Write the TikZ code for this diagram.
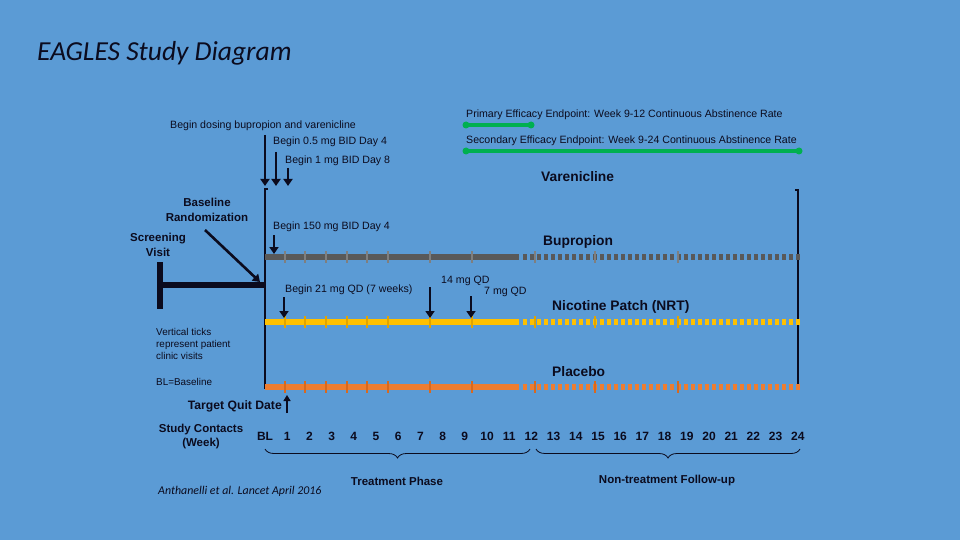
\documentclass[tikz,border=0pt]{standalone}
\usepackage{fontspec}
\setmainfont{Liberation Sans}
\newfontfamily\calfont{Carlito}
\usetikzlibrary{arrows.meta,decorations.pathreplacing}
\definecolor{slide}{HTML}{5B9BD5}
\definecolor{bupgray}{HTML}{595959}
\definecolor{bupgraytick}{HTML}{7F7F7F}
\definecolor{nrtyellow}{HTML}{FFC000}
\definecolor{nrtyellowtick}{HTML}{E0A400}
\definecolor{placorange}{HTML}{ED7D31}
\definecolor{placorangetick}{HTML}{D8691E}
\definecolor{endgreen}{HTML}{00B050}
\definecolor{ink}{HTML}{0B0B1E}
\tikzset{
  note/.style={font=\fontsize{10.6}{12.5}\selectfont, inner sep=0pt, text=ink},
  smallnote/.style={font=\fontsize{9.9}{12}\selectfont, inner sep=0pt, text=ink},
  armlabel/.style={font=\bfseries\fontsize{13.8}{16}\selectfont, inner sep=0pt, text=ink},
  sidelabel/.style={font=\bfseries\fontsize{11.5}{15}\selectfont, inner sep=0pt, text=ink, align=center},
  phaselabel/.style={font=\bfseries\fontsize{11.5}{14}\selectfont, inner sep=0pt, text=ink},
  weeklabel/.style={font=\bfseries\fontsize{12}{14}\selectfont, inner sep=0pt, text=ink},
  drop/.style={line width=2.6pt, draw=ink, -{Triangle[width=9pt,length=7pt]}},
  armline/.style={line width=6pt},
  armtick/.style={line width=1.6pt},
  endpoint/.style={line width=3.5pt, draw=endgreen},
  enddot/.style={fill=endgreen},
  phasebrace/.style={draw=ink, line width=0.8pt, decorate, decoration={brace, mirror, amplitude=9pt}},
}
\begin{document}
\begin{tikzpicture}[x=1pt, y=-1pt]
  % slide background
  \fill[slide] (0,0) rectangle (960,540);
  \useasboundingbox (0,0) rectangle (960,540);

  % title
  \node[anchor=west, inner sep=0pt, text=ink] (title) at (37,53) {\calfont\itshape\fontsize{27.5}{32}\selectfont EAGLES Study Diagram};

  % efficacy endpoints
  \node[note, anchor=west] (primary) at (466,115) {Primary Efficacy Endpoint: Week 9-12 Continuous Abstinence Rate};
  \draw[endpoint] (466,125) -- (531,125);
  \fill[enddot] (466,125) circle (3.5pt) (531,125) circle (3.5pt);
  \node[note, anchor=west] (secondary) at (466,141) {Secondary Efficacy Endpoint: Week 9-24 Continuous Abstinence Rate};
  \draw[endpoint] (466,151) -- (799,151);
  \fill[enddot] (466,151) circle (3.5pt) (799,151) circle (3.5pt);

  % varenicline start arrows
  \node[note, anchor=west] (dosing) at (170,126) {Begin dosing bupropion and varenicline};
  \node[note, anchor=west] (halfmg) at (273,142) {Begin 0.5 mg BID Day 4};
  \node[note, anchor=west] (onemg) at (285,161) {Begin 1 mg BID Day 8};
  \coordinate (d0) at (265,135);
  \coordinate (d4) at (276,152);
  \coordinate (d8) at (288,168);
  \draw[drop] (d0) -- ++(0,51);
  \draw[drop] (d4) -- ++(0,34);
  \draw[drop] (d8) -- ++(0,18);

  % baseline and end bars
  \draw[ink, line width=2.8pt] (268,189) -- (265,189) -- (265,389);
  \draw[ink, line width=2.8pt] (795,190) -- (798,190) -- (798,389);

  % screening visit
  \node[sidelabel] (screen) at (158,245) {Screening\\Visit};
  \draw[ink, line width=6pt] (160,262) -- (160,309);
  \draw[ink, line width=6pt] (160,285) -- (265,285);
  \node[sidelabel] (rand) at (207,210) {Baseline\\Randomization};
  \coordinate (randtip) at (260,282);
  \draw[drop] (205,230) -- (randtip);

  % arms
  \node[armlabel, anchor=west] (vare) at (541,177) {Varenicline};
  \node[armlabel, anchor=west] (bup) at (543,242) {Bupropion};
  \node[armlabel, anchor=west] (nrt) at (552,307) {Nicotine Patch (NRT)};
  \node[armlabel, anchor=west] (plac) at (552,372) {Placebo};

  \foreach \yy/\col in {257/bupgray, 322/nrtyellow, 387/placorange} {
    \draw[armline, \col] (265,\yy) -- (519,\yy);
    \draw[armline, \col, dash pattern=on 4pt off 3pt] (523,\yy) -- (800,\yy);
    \foreach \t in {285,305,326,347,367,388,430,472,535,595,678}
      \draw[armtick, \col tick] (\t,\yy-6) -- (\t,\yy+6);
  }

  % bupropion start
  \node[note, anchor=west] (bupstart) at (273,227) {Begin 150 mg BID Day 4};
  \coordinate (b4) at (274,235);
  \draw[drop] (b4) -- ++(0,19);

  % patch taper
  \node[note, anchor=west] (patch21) at (285,290) {Begin 21 mg QD (7 weeks)};
  \node[note, anchor=west] (patch14) at (441,281) {14 mg QD};
  \node[note, anchor=west] (patch7) at (484,292) {7 mg QD};
  \coordinate (p21) at (284,297);
  \coordinate (p14) at (430,287);
  \coordinate (p7) at (471,296);
  \draw[drop] (p21) -- ++(0,21);
  \draw[drop] (p14) -- ++(0,31);
  \draw[drop] (p7) -- ++(0,22);

  % side notes
  \node[smallnote, anchor=north west, align=left] (ticknote) at (156,328) {Vertical ticks\\represent patient\\clinic visits};
  \node[smallnote, anchor=west] (blnote) at (156,382) {BL=Baseline};

  % target quit date
  \node[sidelabel, anchor=east, font=\bfseries\fontsize{12.2}{15}\selectfont] (tqd) at (282,406) {Target Quit Date};
  \coordinate (tq) at (287,413);
  \draw[ink, line width=2pt, -{Triangle[width=7pt,length=6pt]}] (tq) -- ++(0,-18);

  % study contacts
  \node[sidelabel, font=\bfseries\fontsize{11.5}{14}\selectfont] (contacts) at (201,437) {Study Contacts\\(Week)};
  \node[weeklabel] (wk0) at (265,436) {BL};
  \foreach \w in {1,...,24}
    \node[weeklabel] (wk\w) at ({265+22.2*\w},436) {\w};

  % phases
  \draw[phasebrace] (265,449) -- (530,449);
  \node[phaselabel] (treat) at (397,481) {Treatment Phase};
  \draw[phasebrace] (536,449) -- (800,449);
  \node[phaselabel] (follow) at (667,481) {Non-treatment Follow-up};

  % citation
  \node[anchor=west, inner sep=0pt, text=ink] (cite) at (158,491) {\calfont\itshape\fontsize{11.9}{14}\selectfont Anthanelli et al. Lancet April 2016};
\end{tikzpicture}
\end{document}
